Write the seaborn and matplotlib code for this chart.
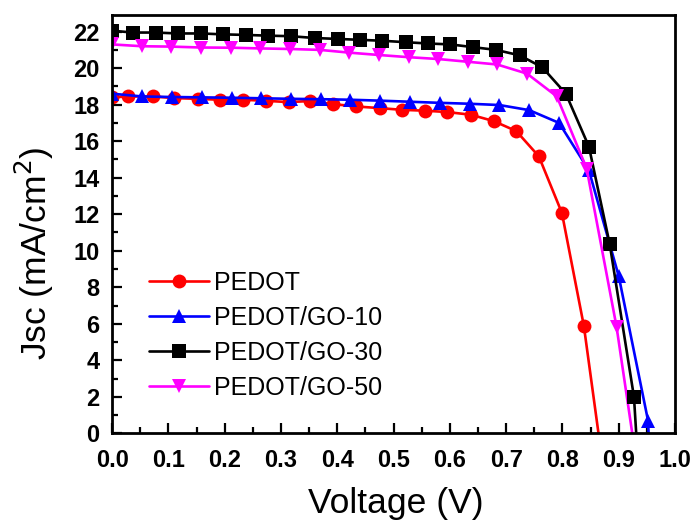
import pandas as pd
import seaborn as sns
import matplotlib.pyplot as plt
from matplotlib.ticker import MultipleLocator

# J-V data
v_pedot = [0.0, 0.028, 0.072, 0.110, 0.152, 0.191, 0.233, 0.273, 0.314, 0.351, 0.393,
           0.434, 0.476, 0.514, 0.555, 0.594, 0.637, 0.678, 0.718, 0.758, 0.799, 0.838]
j_pedot = [18.4, 18.45, 18.45, 18.36, 18.32, 18.27, 18.27, 18.21, 18.14, 18.2, 18.03,
           17.9, 17.81, 17.72, 17.67, 17.6, 17.45, 17.1, 16.55, 15.17, 12.07, 5.88]

v_go10 = [0.0, 0.053, 0.106, 0.159, 0.212, 0.265, 0.318, 0.371, 0.423, 0.476,
          0.529, 0.582, 0.635, 0.688, 0.741, 0.794, 0.847, 0.900, 0.952]
j_go10 = [18.6, 18.45, 18.42, 18.4, 18.38, 18.35, 18.32, 18.3, 18.27, 18.22,
          18.16, 18.1, 18.05, 17.98, 17.7, 17.0, 14.4, 8.6, 0.7]

v_go30 = [0.0, 0.037, 0.077, 0.116, 0.158, 0.197, 0.237, 0.276, 0.317, 0.360, 0.401, 0.441,
          0.480, 0.522, 0.561, 0.601, 0.641, 0.682, 0.724, 0.764, 0.806, 0.847, 0.884, 0.927]
j_go30 = [22.05, 21.95, 21.95, 21.9, 21.9, 21.85, 21.82, 21.78, 21.75, 21.65, 21.6, 21.55,
          21.5, 21.42, 21.35, 21.3, 21.15, 21.0, 20.7, 20.05, 18.6, 15.7, 10.35, 2.0]

v_go50 = [0.0, 0.053, 0.105, 0.158, 0.211, 0.263, 0.316, 0.369, 0.421,
          0.474, 0.527, 0.579, 0.632, 0.684, 0.737, 0.790, 0.843, 0.896]
j_go50 = [21.3, 21.2, 21.18, 21.13, 21.12, 21.08, 21.05, 21.0, 20.85,
          20.72, 20.6, 20.5, 20.35, 20.2, 19.7, 18.45, 14.5, 5.85]

labels = ["PEDOT", "PEDOT/GO-10", "PEDOT/GO-30", "PEDOT/GO-50"]
voc = [0.864, 0.953, 0.931, 0.924]  # where each curve reaches J = 0

colors = {"PEDOT": "#FF0000", "PEDOT/GO-10": "#0000FF",
          "PEDOT/GO-30": "#000000", "PEDOT/GO-50": "#FF00FF"}
markers = {"PEDOT": "o", "PEDOT/GO-10": "^", "PEDOT/GO-30": "s", "PEDOT/GO-50": "v"}

series = [(v_pedot, j_pedot), (v_go10, j_go10), (v_go30, j_go30), (v_go50, j_go50)]
pts = pd.concat([pd.DataFrame({"V": v, "J": j, "sample": lab})
                 for (v, j), lab in zip(series, labels)], ignore_index=True)
tails = pd.concat([pd.DataFrame({"V": [v[-1], vo], "J": [j[-1], 0.0], "sample": lab})
                   for (v, j), lab, vo in zip(series, labels, voc)], ignore_index=True)

sns.set_style("ticks")
plt.rcParams["font.family"] = ["Liberation Sans", "DejaVu Sans"]
plt.rcParams.update({"text.color": "black", "axes.labelcolor": "black",
                     "xtick.color": "black", "ytick.color": "black",
                     "axes.edgecolor": "black"})

fig = plt.figure(figsize=(6.97, 5.24), dpi=100)
ax = fig.add_axes([0.161, 0.173, 0.8075, 0.798])

sns.lineplot(data=tails, x="V", y="J", hue="sample", hue_order=labels, palette=colors,
             linewidth=1.9, legend=False, ax=ax, estimator=None, sort=False)
sns.lineplot(data=pts, x="V", y="J", hue="sample", style="sample", hue_order=labels,
             style_order=labels, palette=colors, markers=markers, dashes=False,
             linewidth=1.9, markersize=10, markeredgewidth=0, estimator=None,
             sort=False, ax=ax)

ax.set_xlim(0, 1.0)
ax.set_ylim(0, 22.9)
ax.xaxis.set_major_locator(MultipleLocator(0.1))
ax.xaxis.set_minor_locator(MultipleLocator(0.05))
ax.yaxis.set_major_locator(MultipleLocator(2))
ax.yaxis.set_minor_locator(MultipleLocator(1))
ax.tick_params(which="both", direction="in", width=1.6, labelsize=17)
ax.tick_params(axis="x", which="major", pad=11)
ax.tick_params(axis="y", which="major", pad=9)
ax.tick_params(which="major", length=7)
ax.tick_params(which="minor", length=4)
for lab in ax.get_xticklabels() + ax.get_yticklabels():
    lab.set_fontweight("bold")
for sp in ax.spines.values():
    sp.set_linewidth(2.0)

ax.set_xlabel("Voltage (V)", fontsize=25.5)
ax.set_ylabel("Jsc (mA/cm$^2$)", fontsize=25.5)
ax.xaxis.set_label_coords(0.504, -0.128)
ax.yaxis.set_label_coords(-0.10, 0.43)

leg = ax.legend(loc="lower left", bbox_to_anchor=(0.025, 0.027), frameon=False,
                fontsize=18, handlelength=2.4, handletextpad=0.2, labelspacing=0.44)

fig.savefig("out.png", dpi=100)
